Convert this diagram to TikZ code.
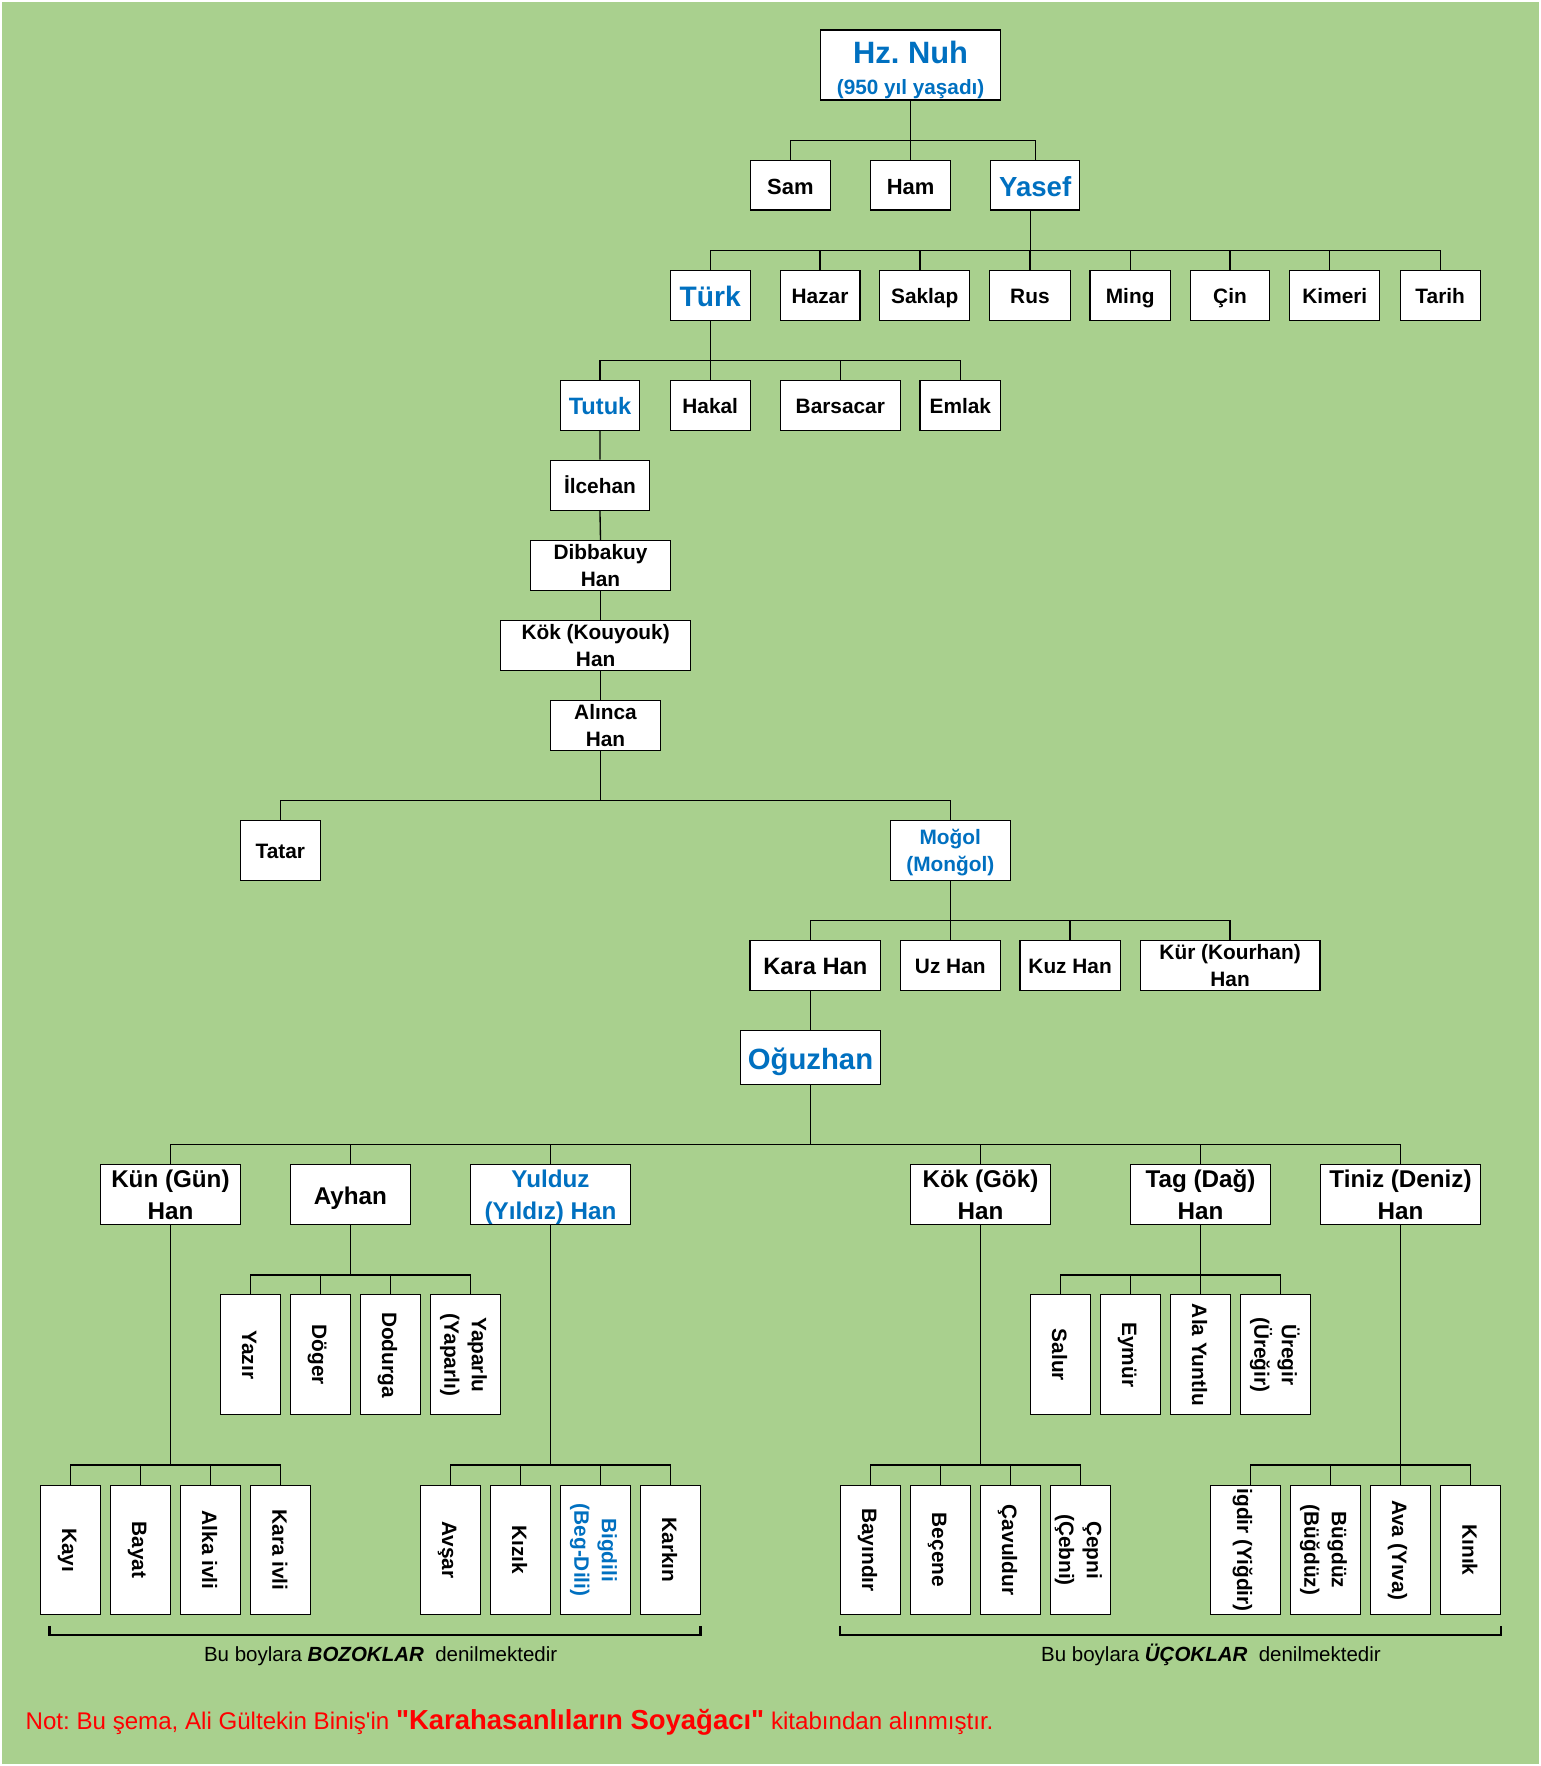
\documentclass[tikz,border=0pt]{standalone}
\usepackage{fontspec}
\setmainfont{Liberation Sans}[Ligatures=TeXOff]
\usepackage{graphicx}
\frenchspacing
\definecolor{bg}{HTML}{A9D08E}
\definecolor{xblue}{HTML}{0070C0}
\definecolor{xred}{HTML}{FF0000}
\newcommand\fs[1]{\fontsize{#1}{#1}\selectfont}
\newcommand\one[1]{\raisebox{0pt}[0.8em][0pt]{#1}}
\newcommand\two[3]{\raisebox{0pt}[\dimexpr#1+0.72em\relax][0pt]{\vbox{\baselineskip=#1\lineskiplimit=-100pt\lineskip=0pt\halign{\hfil##\hfil\cr#2\cr#3\cr}}}}
\newcommand\vone[1]{\rotatebox{-90}{\one{#1}}}
\newcommand\vtwo[3]{\rotatebox{-90}{\two{#1}{#2}{#3}}}
\newcommand\nuhtxt{\raisebox{0pt}[53pt][0pt]{\vbox{\baselineskip=28pt\lineskiplimit=-100pt\lineskip=0pt\halign{\hfil##\hfil\cr\fs{27.4}Hz. Nuh\cr\fs{18.4}(950 yıl yaşadı)\cr}}}}
\tikzset{
  box/.style={draw=black, line width=1pt, fill=white, inner sep=0pt},
  conn/.style={line width=1.2pt, draw=black},
  brk/.style={line width=2pt, draw=black}
}
\newcommand\bx[7][]{\node[box,#1,minimum width=#4pt,minimum height=#5pt,font=\bfseries\fs{#6}] (#2) at (#3) {#7};}
\newcommand\kid[3]{\draw[conn] (#1) |- (#3 |- #2) -- (#3);}
\begin{document}
\begin{tikzpicture}[x=1pt,y=-1pt]
\useasboundingbox (0,0) rectangle (1368,1567.75);
\fill[bg] (0,0) rectangle (1368,1567.75);
\draw[white, line width=1.4pt] (0.7,0.7) rectangle (1367.3,1567.05);
% bar levels
\coordinate (bA) at (0,124.9);
\coordinate (bB) at (0,222.2);
\coordinate (bC) at (0,319.9);
\coordinate (bD) at (0,710.5);
\coordinate (bE) at (0,817.3);
\coordinate (bF) at (0,1016.2);
\coordinate (bG) at (0,1131.8);
\coordinate (bH) at (0,1300.6);
% level 1-2
\bx[text=xblue]{nuh}{808.4,57.7}{159.8}{62.2}{18}{\nuhtxt}
\bx{sam}{701.7,164.5}{71.4}{43.8}{19.5}{\one{Sam}}
\bx{ham}{808.4,164.5}{71}{43.8}{19.5}{\one{Ham}}
\bx[text=xblue]{yasef}{919,164.5}{79.3}{43.8}{24.5}{\one{Yasef}}
% level 3
\bx[text=xblue]{turk}{630.5,262.2}{71}{44.4}{25}{\one{Türk}}
\bx{hazar}{728,262.2}{70.8}{44.4}{18.5}{\one{Hazar}}
\bx{saklap}{820.9,262.2}{80.2}{44.4}{18.5}{\one{Saklap}}
\bx{rus}{914.3,262.2}{71.4}{44.4}{18.5}{\one{Rus}}
\bx{ming}{1003.3,262.2}{71.4}{44.4}{18.5}{\one{Ming}}
\bx{cin}{1091.9,262.2}{70.7}{44.4}{18.5}{\one{Çin}}
\bx{kimeri}{1185,262.2}{80}{44.4}{18.5}{\one{Kimeri}}
\bx{tarih}{1278.5,262.2}{71}{44.4}{18.5}{\one{Tarih}}
% level 4
\bx[text=xblue]{tutuk}{532.7,359.8}{70.7}{44.4}{21}{\one{Tutuk}}
\bx{hakal}{630.5,359.8}{71}{44.4}{18.5}{\one{Hakal}}
\bx{barsacar}{746,359.8}{106.5}{44.4}{18.5}{\one{Barsacar}}
\bx{emlak}{852.5,359.8}{71.5}{44.4}{18.5}{\one{Emlak}}
% chain
\bx{ilcehan}{532.6,430.8}{88}{44.4}{18.5}{\one{İlcehan}}
\bx{dibbakuy}{533.1,502}{124.6}{44}{18.5}{\two{24pt}{Dibbakuy}{Han}}
\bx{kok}{528.8,572.9}{168.6}{44.3}{18.5}{\two{24pt}{Kök (Kouyouk)}{Han}}
\bx{alinca}{537.5,643.9}{98}{44.3}{18.5}{\two{24pt}{Alınca}{Han}}
% Tatar / Mogol
\bx{tatar}{248.8,754.9}{71}{53.3}{18.5}{\one{Tatar}}
\bx[text=xblue]{mogol}{843.6,754.9}{106.8}{53.3}{18.5}{\two{24.6pt}{Moğol}{(Monğol)}}
% Kara Han row
\bx{karahan}{723.8,856.9}{115.9}{44.4}{21}{\one{Kara Han}}
\bx{uzhan}{843.6,856.9}{88.5}{44.4}{18.5}{\one{Uz Han}}
\bx{kuzhan}{950,856.9}{89.1}{44.4}{18.5}{\one{Kuz Han}}
\bx{kur}{1092,856.9}{159.5}{44.4}{18.5}{\two{23.7pt}{Kür (Kourhan)}{Han}}
\bx[text=xblue]{oguzhan}{719.5,938.6}{124.4}{48}{26}{\one{Oğuzhan}}
% Han row
\bx{kun}{151.3,1060.5}{124.1}{53.3}{21.5}{\two{28pt}{Kün (Gün)}{Han}}
\bx{ayhan}{311.1,1060.5}{106.9}{53.3}{21.5}{\one{Ayhan}}
\bx[text=xblue]{yulduz}{488.7,1060.5}{142.2}{53.3}{21.5}{\two{28pt}{Yulduz}{(Yıldız) Han}}
\bx{gok}{870.4,1060.5}{124.1}{53.3}{21.5}{\two{28pt}{Kök (Gök)}{Han}}
\bx{tag}{1065.7,1060.5}{124.5}{53.3}{21.5}{\two{28pt}{Tag (Dağ)}{Han}}
\bx{tiniz}{1243.3,1060.5}{141.8}{53.3}{21.5}{\two{28pt}{Tiniz (Deniz)}{Han}}
% middle rotated row
\bx{yazir}{222.4,1202.8}{53.4}{106.5}{18.5}{\vone{Yazır}}
\bx{doger}{284.4,1202.8}{53.4}{106.5}{18.5}{\vone{Döger}}
\bx{dodurga}{346.7,1202.8}{53}{106.5}{18.5}{\vone{Dodurga}}
\bx{yaparlu}{413.3,1202.8}{62}{106.5}{18.5}{\vtwo{24.5pt}{Yaparlu}{(Yaparlı)}}
\bx{salur}{941.5,1202.8}{53.5}{106.5}{18.5}{\vone{Salur}}
\bx{eymur}{1003.5,1202.8}{53.5}{106.5}{18.5}{\vone{Eymür}}
\bx{ala}{1065.7,1202.8}{53.1}{106.5}{18.5}{\vone{Ala Yuntlu}}
\bx{uregir}{1132.4,1202.8}{62}{106.5}{18.5}{\vtwo{24.5pt}{Üregir}{(Üreğir)}}
% bottom rotated row
\bx{kayi}{62.5,1376}{53.4}{115.2}{18.5}{\vone{Kayı}}
\bx{bayat}{124.8,1376}{53}{115.2}{18.5}{\vone{Bayat}}
\bx{alka}{186.8,1376}{53}{115.2}{18.5}{\vone{Alka ivli}}
\bx{karaivli}{249.1,1376}{53.4}{115.2}{18.5}{\vone{Kara ivli}}
\bx{avsar}{399.9,1376}{53.4}{115.2}{18.5}{\vone{Avşar}}
\bx{kizik}{462,1376}{53.5}{115.2}{18.5}{\vone{Kızık}}
\bx[text=xblue]{bigdili}{528.7,1376}{62.1}{115.2}{18.5}{\vtwo{24.5pt}{Bigdili}{(Beg-Dili)}}
\bx{karkin}{595.1,1376}{53.4}{115.2}{18.5}{\vone{Karkın}}
\bx{bayindir}{772.8,1376}{53}{115.2}{18.5}{\vone{Bayındır}}
\bx{becene}{834.9,1376}{52.9}{115.2}{18.5}{\vone{Beçene}}
\bx{cavuldur}{897.1,1376}{53.5}{115.2}{18.5}{\vone{Çavuldur}}
\bx{cepni}{959.2,1376}{53.4}{115.2}{18.5}{\vtwo{24.5pt}{Çepni}{(Çebni)}}
\bx{igdir}{1105.6,1376}{62}{115.2}{18.5}{\vone{igdir (Yiğdir)}}
\bx{bugduz}{1176.8,1376}{62}{115.2}{18.5}{\vtwo{24.5pt}{Bügdüz}{(Büğdüz)}}
\bx{ava}{1243.3,1376}{53}{115.2}{18.5}{\vone{Ava (Yıva)}}
\bx{kinik}{1305.5,1376}{53.4}{115.2}{18.5}{\vone{Kınık}}
% shifted drop points
\coordinate (sak) at ([xshift=-4.2pt]saklap.north);
\coordinate (kim) at ([xshift=-5pt]kimeri.north);
\coordinate (kh) at (oguzhan.north |- karahan.north);
\coordinate (yap) at ([xshift=4.3pt]yaparlu.north);
\coordinate (ure) at ([xshift=4.2pt]uregir.north);
\coordinate (big) at ([xshift=4.4pt]bigdili.north);
\coordinate (igd) at ([xshift=4.4pt]igdir.north);
\coordinate (bug) at ([xshift=4.3pt]bugduz.north);
% connectors
\kid{nuh.south}{bA}{sam.north}
\kid{nuh.south}{bA}{ham.north}
\kid{nuh.south}{bA}{yasef.north}
\coordinate (ys) at ([xshift=-4.4pt]yasef.south);
\kid{ys}{bB}{turk.north}
\kid{ys}{bB}{hazar.north}
\kid{ys}{bB}{sak}
\kid{ys}{bB}{rus.north}
\kid{ys}{bB}{ming.north}
\kid{ys}{bB}{cin.north}
\kid{ys}{bB}{kim}
\kid{ys}{bB}{tarih.north}
\kid{turk.south}{bC}{tutuk.north}
\kid{turk.south}{bC}{hakal.north}
\kid{turk.south}{bC}{barsacar.north}
\kid{turk.south}{bC}{emlak.north}
\draw[conn] (tutuk.south) -- (ilcehan.north);
\draw[conn] (ilcehan.south) -- (dibbakuy.north);
\draw[conn] (dibbakuy.south) -- (dibbakuy.south |- kok.north);
\draw[conn] (kok.south -| dibbakuy.south) -- (dibbakuy.south |- alinca.north);
\kid{alinca.south -| dibbakuy.south}{bD}{tatar.north}
\kid{alinca.south -| dibbakuy.south}{bD}{mogol.north}
\kid{mogol.south}{bE}{kh}
\kid{mogol.south}{bE}{uzhan.north}
\kid{mogol.south}{bE}{kuzhan.north}
\kid{mogol.south}{bE}{kur.north}
\draw[conn] (oguzhan.north |- karahan.south) -- (oguzhan.north);
\kid{oguzhan.south}{bF}{kun.north}
\kid{oguzhan.south}{bF}{ayhan.north}
\kid{oguzhan.south}{bF}{yulduz.north}
\kid{oguzhan.south}{bF}{gok.north}
\kid{oguzhan.south}{bF}{tag.north}
\kid{oguzhan.south}{bF}{tiniz.north}
\kid{ayhan.south}{bG}{yazir.north}
\kid{ayhan.south}{bG}{doger.north}
\kid{ayhan.south}{bG}{dodurga.north}
\kid{ayhan.south}{bG}{yap}
\kid{tag.south}{bG}{salur.north}
\kid{tag.south}{bG}{eymur.north}
\kid{tag.south}{bG}{ala.north}
\kid{tag.south}{bG}{ure}
\kid{kun.south}{bH}{kayi.north}
\kid{kun.south}{bH}{bayat.north}
\kid{kun.south}{bH}{alka.north}
\kid{kun.south}{bH}{karaivli.north}
\kid{yulduz.south}{bH}{avsar.north}
\kid{yulduz.south}{bH}{kizik.north}
\kid{yulduz.south}{bH}{big}
\kid{yulduz.south}{bH}{karkin.north}
\kid{gok.south}{bH}{bayindir.north}
\kid{gok.south}{bH}{becene.north}
\kid{gok.south}{bH}{cavuldur.north}
\kid{gok.south}{bH}{cepni.north}
\kid{tiniz.south}{bH}{igd}
\kid{tiniz.south}{bH}{bug}
\kid{tiniz.south}{bH}{ava.north}
\kid{tiniz.south}{bH}{kinik.north}
% brackets
\coordinate (l1) at (43.9,1443.4);
\coordinate (l2) at (621.8,1443.4);
\coordinate (r1) at (745.9,1443.4);
\coordinate (r2) at (1332.2,1443.4);
\draw[brk] (l1) -- ++(0,7.9) -| (l2);
\draw[brk] (r1) -- ++(0,7.9) -| (r2);
\node[anchor=base, inner sep=0pt, font=\fs{18.2}] (bozok) at (337.9,1475.1) {Bu boylara \textbf{\textit{BOZOKLAR}}\ \ denilmektedir};
\node[anchor=base, inner sep=0pt, font=\fs{18.2}] (ucok) at (1075,1475.1) {Bu boylara \textbf{\textit{ÜÇOKLAR}}\ \ denilmektedir};
\node[anchor=base west, inner sep=0pt, text=xred, font=\fs{21.4}] (note) at (22.6,1535.5) {Not: Bu şema, Ali Gültekin Biniş'in {\bfseries\fs{24.4}"Karahasanlıların Soyağacı"} kitabından alınmıştır.};
\end{tikzpicture}
\end{document}
